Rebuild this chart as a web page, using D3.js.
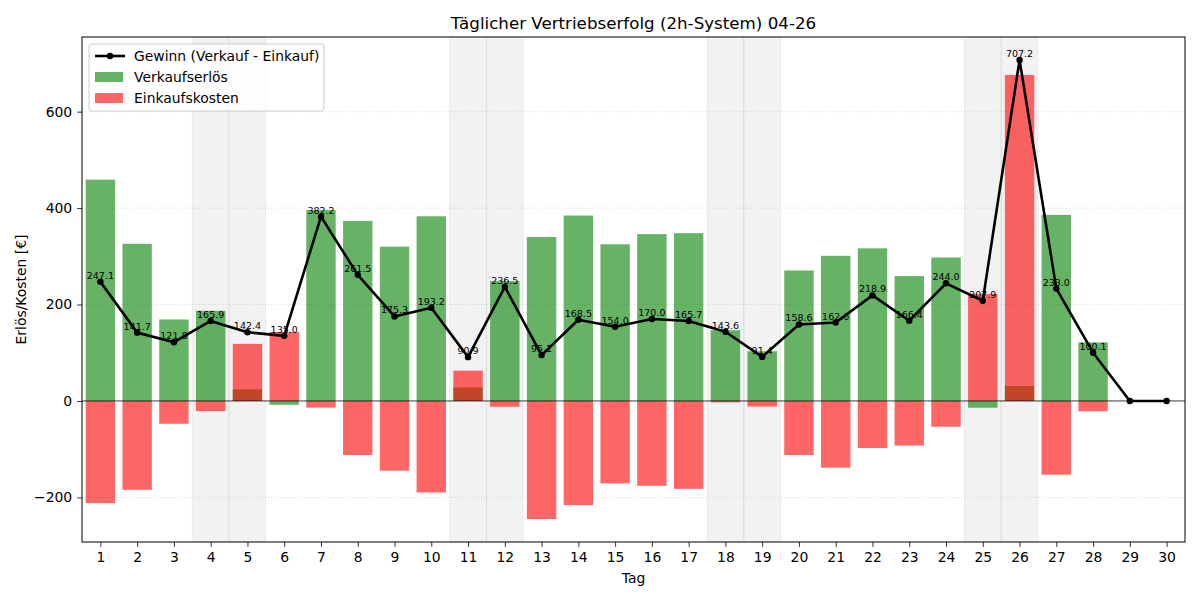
<!DOCTYPE html>
<html>
<head>
<meta charset="utf-8">
<script src="https://cdn.jsdelivr.net/npm/d3@7"></script>
<style>
  body { margin: 0; background: #fff; }
  text { font-family: "DejaVu Sans", sans-serif; }
</style>
</head>
<body>
<div id="chart"></div>
<script>
// Tage (x-Achse)
var tage = d3.range(1, 31);
// Verkaufserlös pro Tag (€)
var verkaufserloes = [459, 326, 169, 187, 24, -8, 396, 373.5, 320, 383,
  28, 248.5, 340, 384.5, 325, 346, 348, 146.6, 103, 270.6,
  301, 316.5, 259, 297.5, -14, 31, 386, 121.5, 0, 0];
// Einkaufskosten pro Tag (€), wird negativ gezeichnet
var einkaufskosten = [211.9, 184.3, 47.2, 21.1, -118.4, -143, 13.8, 112, 144.7, 189.8,
  -62.9, 12, 244.9, 216, 171, 176, 182.3, 3, 11.6, 112,
  138.4, 97.6, 92.6, 53.5, -221.9, -676.2, 153, 21.4, 0, 0];
// Gewinn (Verkauf - Einkauf)
var gewinn = [247.1, 141.7, 121.8, 165.9, 142.4, 135.0, 382.2, 261.5, 175.3, 193.2,
  90.9, 236.5, 95.1, 168.5, 154.0, 170.0, 165.7, 143.6, 91.4, 158.6,
  162.6, 218.9, 166.4, 244.0, 207.9, 707.2, 233.0, 100.1, 0, 0];
// Wochenenden (grau hinterlegt)
var wochenende = [4, 5, 11, 12, 18, 19, 25, 26];
var yTicks = [-200, 0, 200, 400, 600];

var width = 1200, height = 600;
var margin = { top: 37, right: 15, bottom: 58, left: 82 };
var innerW = width - margin.left - margin.right,
  innerH = height - margin.top - margin.bottom;

var svg = d3.select("#chart").append("svg")
  .attr("width", width)
  .attr("height", height);

var x = d3.scaleLinear().domain([0.5, 30.5]).range([0, innerW]);
var y = d3.scaleLinear().domain([-292.5, 754.8]).range([innerH, 0]);

var g = svg.append("g")
  .attr("transform", "translate(" + margin.left + "," + margin.top + ")");

// weekend shading
g.selectAll(".we")
  .data(wochenende)
  .enter()
  .append("rect")
  .attr("class", "we")
  .attr("x", function (d) { return x(d - 0.5); })
  .attr("y", 0)
  .attr("width", x(1) - x(0))
  .attr("height", innerH)
  .style("fill", "gray")
  .style("fill-opacity", 0.1)
  .style("stroke", "gray")
  .style("stroke-opacity", 0.1)
  .style("stroke-width", 1);

// grid
g.selectAll(".grid")
  .data(yTicks)
  .enter()
  .append("line")
  .attr("class", "grid")
  .attr("x1", 0).attr("x2", innerW)
  .attr("y1", function (d) { return y(d); })
  .attr("y2", function (d) { return y(d); })
  .style("stroke", "#b0b0b0")
  .style("stroke-opacity", 0.6)
  .style("stroke-width", 0.8)
  .style("stroke-dasharray", "1,2");

var bw = (x(1) - x(0)) * 0.8;

g.selectAll(".vk")
  .data(tage)
  .enter()
  .append("rect")
  .attr("class", "vk")
  .attr("x", function (d) { return x(d) - bw / 2; })
  .attr("width", bw)
  .attr("y", function (d, i) { return y(Math.max(0, verkaufserloes[i])); })
  .attr("height", function (d, i) { return Math.abs(y(verkaufserloes[i]) - y(0)); })
  .style("fill", "green")
  .style("fill-opacity", 0.6);

g.selectAll(".ek")
  .data(tage)
  .enter()
  .append("rect")
  .attr("class", "ek")
  .attr("x", function (d) { return x(d) - bw / 2; })
  .attr("width", bw)
  .attr("y", function (d, i) { return y(Math.max(0, -einkaufskosten[i])); })
  .attr("height", function (d, i) { return Math.abs(y(-einkaufskosten[i]) - y(0)); })
  .style("fill", "red")
  .style("fill-opacity", 0.6);

// zero line
g.append("line")
  .attr("x1", 0).attr("x2", innerW)
  .attr("y1", y(0)).attr("y2", y(0))
  .style("stroke", "#000")
  .style("stroke-opacity", 0.75)
  .style("stroke-width", 1);

// value labels
g.selectAll(".lbl")
  .data(tage.filter(function (d, i) { return gewinn[i] !== 0; }))
  .enter()
  .append("text")
  .attr("class", "lbl")
  .attr("x", function (d) { return x(d); })
  .attr("y", function (d) { return y(gewinn[d - 1]) - 3; })
  .attr("text-anchor", "middle")
  .style("font-size", "9.5px")
  .style("fill", "#000")
  .text(function (d) { return gewinn[d - 1].toFixed(1); });

// profit line
var line = d3.line()
  .x(function (d) { return x(d); })
  .y(function (d) { return y(gewinn[d - 1]); });

g.append("path")
  .datum(tage)
  .attr("d", line)
  .style("fill", "none")
  .style("stroke", "#000")
  .style("stroke-width", 2.6)
  .style("stroke-linejoin", "round");

g.selectAll(".pt")
  .data(tage)
  .enter()
  .append("circle")
  .attr("class", "pt")
  .attr("cx", function (d) { return x(d); })
  .attr("cy", function (d) { return y(gewinn[d - 1]); })
  .attr("r", 3.2)
  .style("fill", "#000");

// axes
var xAxis = d3.axisBottom(x).tickValues(tage).tickFormat(d3.format("d")).tickSizeOuter(0).tickSize(4.9).tickPadding(4.9);
var yAxis = d3.axisLeft(y).tickValues(yTicks).tickFormat(function (d) {
  return d < 0 ? "\u2212" + Math.abs(d) : d;
}).tickSizeOuter(0).tickSize(4.9).tickPadding(4.9);

var gx = g.append("g").attr("transform", "translate(0," + innerH + ")").call(xAxis);
var gy = g.append("g").call(yAxis);
[gx, gy].forEach(function (a) {
  a.select(".domain").remove();
  a.selectAll("text").style("font-size", "13.9px").style("font-family", "DejaVu Sans").style("fill", "#000");
  a.selectAll("line").style("stroke", "#000").style("stroke-width", 0.8);
});

// frame
g.append("rect")
  .attr("width", innerW).attr("height", innerH)
  .style("fill", "none")
  .style("stroke", "#000")
  .style("stroke-width", 1);

// title and axis labels
svg.append("text")
  .attr("x", margin.left + innerW / 2)
  .attr("y", 29)
  .attr("text-anchor", "middle")
  .style("font-size", "16.7px")
  .text("Täglicher Vertriebserfolg (2h-System) 04-26");

svg.append("text")
  .attr("x", margin.left + innerW / 2)
  .attr("y", 583)
  .attr("text-anchor", "middle")
  .style("font-size", "13.9px")
  .text("Tag");

svg.append("text")
  .attr("transform", "translate(26," + (margin.top + innerH / 2) + ") rotate(-90)")
  .attr("text-anchor", "middle")
  .style("font-size", "13.9px")
  .text("Erlös/Kosten [€]");

// legend
var leg = svg.append("g").attr("transform", "translate(89,44)");
leg.append("rect")
  .attr("width", 235).attr("height", 67)
  .attr("rx", 3)
  .style("fill", "#fff")
  .style("fill-opacity", 0.8)
  .style("stroke", "#ccc")
  .style("stroke-width", 1);

var legItems = ["Gewinn (Verkauf - Einkauf)", "Verkaufserlös", "Einkaufskosten"];
legItems.forEach(function (name, i) {
  var cy = 12 + i * 21;
  if (i === 0) {
    leg.append("line")
      .attr("x1", 6).attr("x2", 36).attr("y1", cy).attr("y2", cy)
      .style("stroke", "#000").style("stroke-width", 2.6);
    leg.append("circle").attr("cx", 21).attr("cy", cy).attr("r", 3.2).style("fill", "#000");
  } else {
    leg.append("rect")
      .attr("x", 6).attr("y", cy - 5).attr("width", 28).attr("height", 10)
      .style("fill", i === 1 ? "green" : "red")
      .style("fill-opacity", 0.6);
  }
  leg.append("text")
    .attr("x", 45).attr("y", cy + 5)
    .style("font-size", "13.9px")
    .text(name);
});
</script>
</body>
</html>
